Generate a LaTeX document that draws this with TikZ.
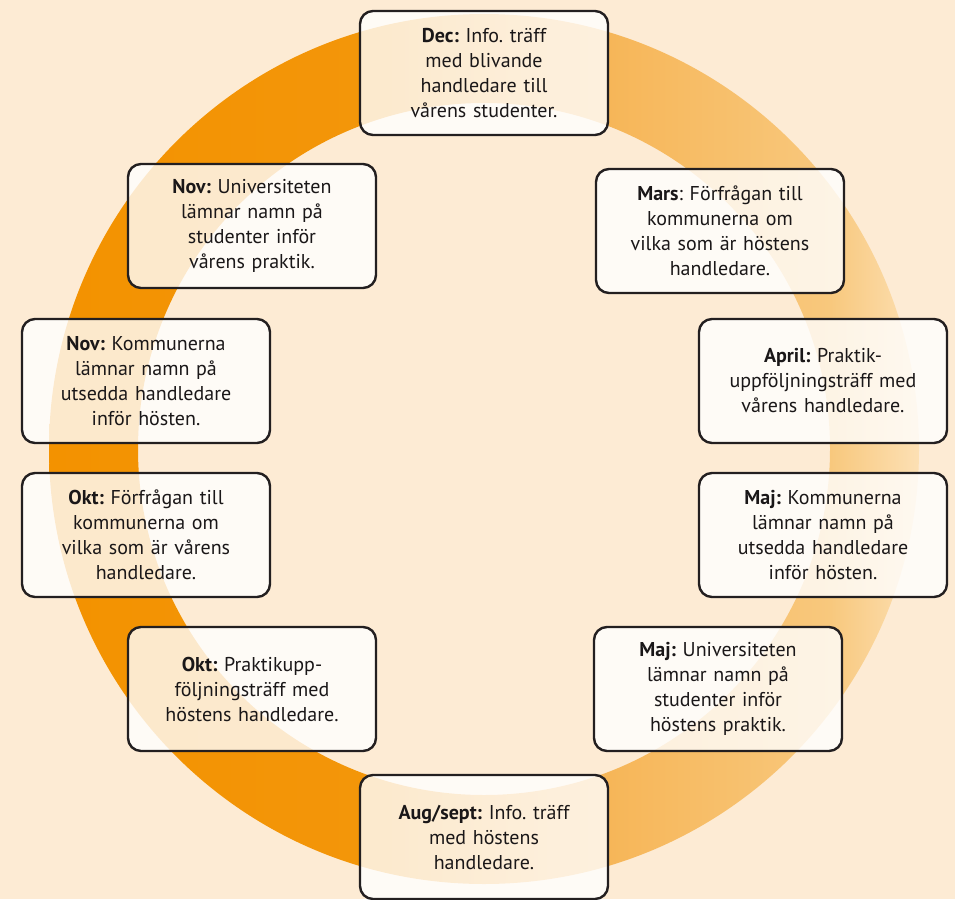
\documentclass[tikz,border=0pt]{standalone}
\usepackage{fontspec}
\setmainfont{PT Sans}
\frenchspacing
\definecolor{bg}{RGB}{253,235,212}
\definecolor{boxline}{RGB}{35,31,32}
\definecolor{txt}{RGB}{26,23,24}
\definecolor{rA}{RGB}{243,146,0}
\definecolor{rB}{RGB}{243,150,10}
\definecolor{rC}{RGB}{246,178,80}
\definecolor{rD}{RGB}{248,200,125}
\definecolor{rE}{RGB}{252,224,180}
\pgfdeclarehorizontalshading{ringshade}{100bp}{color(0bp)=(rA); color(25bp)=(rA); color(44bp)=(rB); color(54.4bp)=(rC); color(69.9bp)=(rD); color(75bp)=(rE); color(100bp)=(rE)}
\tikzset{
  box/.style={draw=boxline, line width=2.4pt, rounded corners=13pt, fill=white,
    fill opacity=0.8, text opacity=1, minimum width=248pt, minimum height=124pt,
    align=center, text width=240pt, inner sep=0pt, text=txt,
    font=\fontsize{20}{25}\selectfont}
}
\begin{document}
\begin{tikzpicture}[x=1pt,y=-1pt]
\useasboundingbox (0,0) rectangle (955,899);
\fill[bg] (0,0) rectangle (955,899);
\coordinate (c) at (484,449);
\shade[shading=ringshade, even odd rule] (c) circle[radius=435pt] (c) circle[radius=346pt];
\node[box] (dec) at (484,73) {\textbf{Dec:} Info. träff\\med blivande\\handledare till\\vårens studenter.};
\node[box] (mars) at (720,231) {\textbf{Mars}: Förfrågan till\\kommunerna om\\vilka som är höstens\\handledare.};
\node[box] (april) at (823,381) {\textbf{April:} Praktik-\\uppföljningsträff med\\vårens handledare.};
\node[box] (majk) at (823,535) {\textbf{Maj:} Kommunerna\\lämnar namn på\\utsedda handledare\\inför hösten.};
\node[box] (maju) at (718,689) {\textbf{Maj:} Universiteten\\lämnar namn på\\studenter inför\\höstens praktik.};
\node[box] (aug) at (484,837) {\textbf{Aug/sept:} Info. träff\\med höstens\\handledare.};
\node[box] (oktp) at (252,689) {\textbf{Okt:} Praktikupp-\\följningsträff med\\höstens handledare.};
\node[box] (oktf) at (146,535) {\textbf{Okt:} Förfrågan till\\kommunerna om\\vilka som är vårens\\handledare.};
\node[box] (novk) at (146,381) {\textbf{Nov:} Kommunerna\\lämnar namn på\\utsedda handledare\\inför hösten.};
\node[box] (novu) at (252,226) {\textbf{Nov:} Universiteten\\lämnar namn på\\studenter inför\\vårens praktik.};
\end{tikzpicture}
\end{document}
